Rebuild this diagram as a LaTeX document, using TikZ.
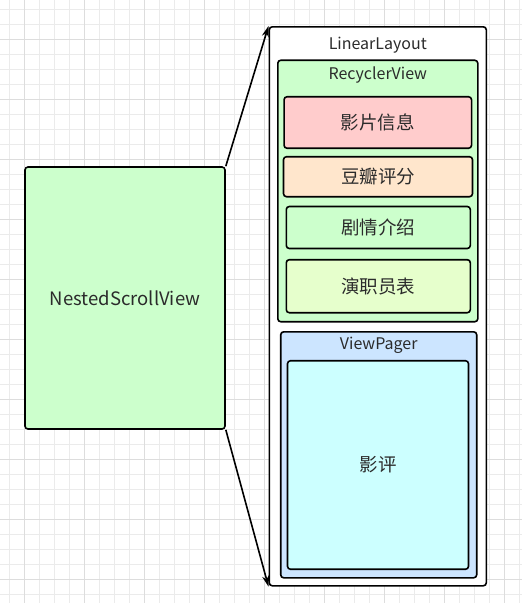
\documentclass[tikz,border=0pt]{standalone}
\usepackage{fontspec}
\setmainfont{Noto Sans CJK SC}
\usetikzlibrary{arrows.meta}

\begin{document}
\begin{tikzpicture}[x=1pt,y=-1pt,
    box/.style={draw=black, line width=1.6pt, rounded corners=3pt, text=textColour, inner sep=0pt},
    link/.style={line width=1.6pt, -{Stealth[length=11pt,width=7pt]}}]
    % Define colours
    \definecolor{textColour}{HTML}{2B2B2B}
    \definecolor{gridColour}{HTML}{EBEBEB}
    \definecolor{majorColour}{HTML}{DDDDDD}
    \definecolor{greenColour}{HTML}{CCFFCC}
    \definecolor{redColour}{HTML}{FFCCCC}
    \definecolor{orangeColour}{HTML}{FFE6CC}
    \definecolor{limeColour}{HTML}{E6FFCC}
    \definecolor{blueColour}{HTML}{CCE5FF}
    \definecolor{cyanColour}{HTML}{CCFFFF}

    % Fix the page size
    \useasboundingbox (0,0) rectangle (522,603);
    \fill[white] (0,0) rectangle (522,603);

    % Draw the grid
    \foreach \x in {0,...,34}
        \draw[gridColour, line width=0.8pt] (9.5+15*\x,0) -- (9.5+15*\x,603);
    \foreach \y in {0,...,39}
        \draw[gridColour, line width=0.8pt] (0,9.5+15*\y) -- (522,9.5+15*\y);
    \foreach \x in {0,...,8}
        \draw[majorColour, line width=0.8pt] (24.5+60*\x,0) -- (24.5+60*\x,603);
    \foreach \y in {0,...,9}
        \draw[majorColour, line width=0.8pt] (0,39.5+60*\y) -- (522,39.5+60*\y);

    % Left box
    \node[box, fill=greenColour, minimum width=200pt, minimum height=262pt, font=\fontsize{18.5}{22}\selectfont]
        (nested) at (125,298) {NestedScrollView};

    % Outer layout
    \node[box, fill=white, minimum width=217pt, minimum height=559pt,
        label={[anchor=center, yshift=-19.5pt, text=textColour, font=\fontsize{16}{19}\selectfont]north:LinearLayout}]
        (linear) at (377.8,306.3) {};

    % Recycler view and its items
    \node[box, fill=greenColour, minimum width=200pt, minimum height=261.5pt,
        label={[anchor=center, yshift=-15.5pt, text=textColour, font=\fontsize{16}{19}\selectfont]north:RecyclerView}]
        (recycler) at (377.8,191) {};
    \node[box, fill=redColour, minimum width=187.5pt, minimum height=51.5pt, font=\fontsize{18.5}{22}\selectfont]
        (info) at (377.8,122.5) {影片信息};
    \node[box, fill=orangeColour, minimum width=189pt, minimum height=40pt, font=\fontsize{18.5}{22}\selectfont]
        (rating) at (378,176.7) {豆瓣评分};
    \node[box, fill=greenColour, minimum width=184pt, minimum height=42pt, font=\fontsize{18.5}{22}\selectfont]
        (plot) at (378.3,227.5) {剧情介绍};
    \node[box, fill=limeColour, minimum width=184pt, minimum height=53pt, font=\fontsize{18.5}{22}\selectfont]
        (cast) at (378.3,286.2) {演职员表};

    % View pager
    \node[box, fill=blueColour, minimum width=196pt, minimum height=246pt,
        label={[anchor=center, yshift=-14.5pt, text=textColour, font=\fontsize{16}{19}\selectfont]north:ViewPager}]
        (pager) at (378.7,454.8) {};
    \node[box, fill=cyanColour, minimum width=181pt, minimum height=208.5pt, font=\fontsize{18.5}{22}\selectfont]
        (review) at (378,465) {影评};

    % Connect the boxes
    \draw[link] (nested.north east) -- (linear.north west);
    \draw[link] (nested.south east) -- (linear.south west);

\end{tikzpicture}
\end{document}
